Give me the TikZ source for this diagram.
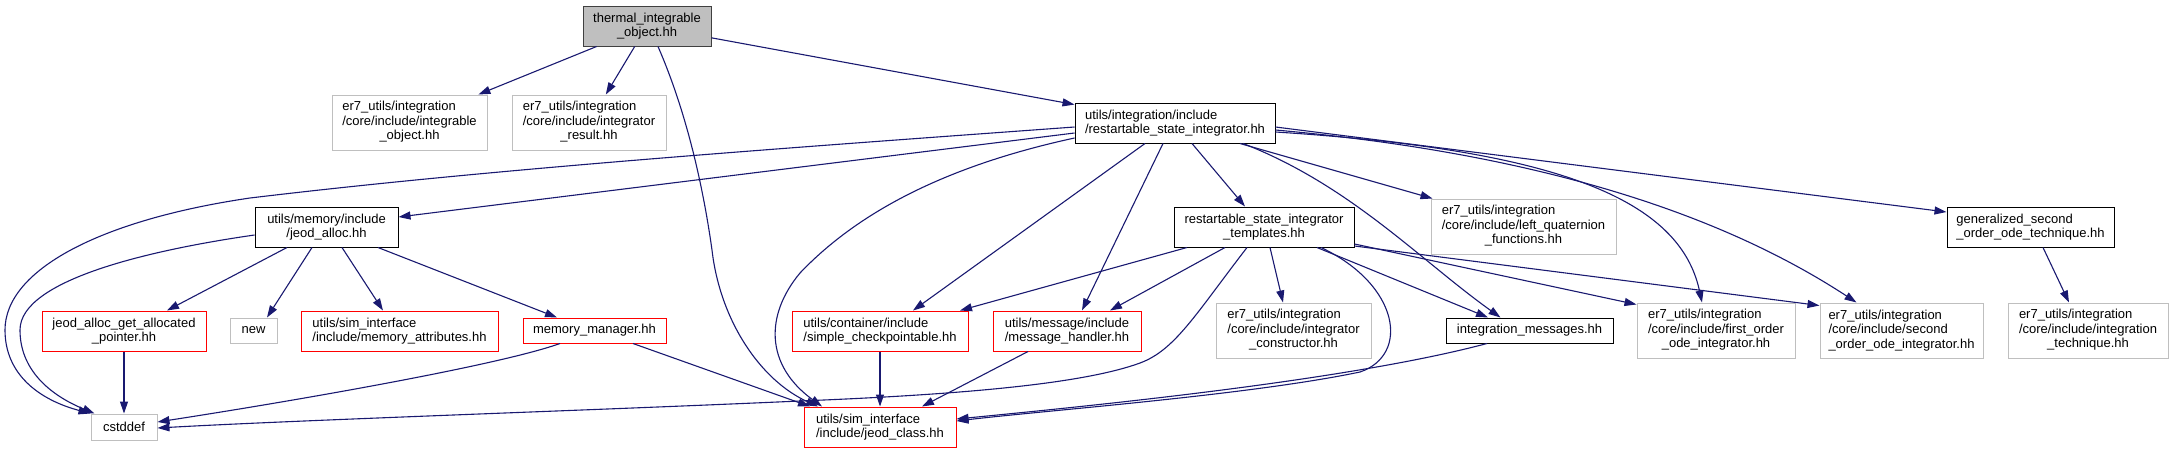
\documentclass[tikz,border=0pt]{standalone}
\usepackage{fontspec}
\setmainfont{Liberation Sans}
\usetikzlibrary{arrows.meta}

\definecolor{edgeblue}{HTML}{191970}
\definecolor{lightgrey}{HTML}{BFBFBF}
\definecolor{darkborder}{HTML}{404040}

% first lines left, last line centred
\newcommand{\lastc}[2]{\begin{tabular}{@{}l@{}}#1\\\multicolumn{1}{@{}c@{}}{#2}\end{tabular}}

\begin{document}
\begin{tikzpicture}[x=1pt, y=-1pt, >={Triangle[length=12pt,width=8pt]},
  file/.style={draw, line width=1pt, inner sep=0pt, fill=white,
    font=\fontsize{13}{14.5}\selectfont},
  sz/.style 2 args={minimum width=#1pt, minimum height=#2pt},
  root/.style={file, draw=darkborder, fill=lightgrey, align=center},
  doc/.style={file, draw=black},
  undoc/.style={file, draw=lightgrey},
  trunc/.style={file, draw=red},
  dep/.style={->, draw=edgeblue, fill=none, line width=1.1pt}]

  \useasboundingbox (0,0) rectangle (2174,453);

  % --- 1. ファイル ---
  \node[root, sz={128}{40}] (root) at (647,26) {thermal\_integrable\\\_object.hh};
  \node[undoc, sz={155}{55}] (intobj) at (409.5,122.5) {\lastc{er7\_utils/integration\\/core/include/integrable}{\_object.hh}};
  \node[undoc, sz={154}{55}] (intres) at (589,122.5) {\lastc{er7\_utils/integration\\/core/include/integrator}{\_result.hh}};
  \node[doc, sz={200}{40}, align=left] (rsi) at (1175,123) {utils/integration/include\\/restartable\_state\_integrator.hh};

  \node[doc, sz={143}{40}, align=center] (jalloc) at (326.5,227) {utils/memory/include\\/jeod\_alloc.hh};
  \node[doc, sz={180}{40}, align=center] (rst) at (1264,227) {restartable\_state\_integrator\\\_templates.hh};
  \node[undoc, sz={185}{55}] (leftq) at (1523.5,226.5) {\lastc{er7\_utils/integration\\/core/include/left\_quaternion}{\_functions.hh}};
  \node[doc, sz={167}{40}, align=left] (gen2) at (2030.5,227) {generalized\_second\\\_order\_ode\_technique.hh};

  \node[trunc, sz={164}{40}, align=center] (getptr) at (124,331) {jeod\_alloc\_get\_allocated\\\_pointer.hh};
  \node[undoc, sz={47}{25}] (new) at (253.5,330.5) {new};
  \node[trunc, sz={197}{40}, align=left] (memattr) at (399.5,331) {utils/sim\_interface\\/include/memory\_attributes.hh};
  \node[trunc, sz={143}{25}] (memmgr) at (594.5,330.5) {memory\_manager.hh};
  \node[trunc, sz={176}{40}, align=left] (simplecp) at (880,331) {utils/container/include\\/simple\_checkpointable.hh};
  \node[trunc, sz={148}{40}, align=left] (msghdl) at (1067,331) {utils/message/include\\/message\_handler.hh};
  \node[undoc, sz={155}{55}] (intcons) at (1293.5,330.5) {\lastc{er7\_utils/integration\\/core/include/integrator}{\_constructor.hh}};
  \node[doc, sz={167}{25}] (intmsg) at (1529.5,330.5) {integration\_messages.hh};
  \node[undoc, sz={158}{55}] (first) at (1716,330.5) {\lastc{er7\_utils/integration\\/core/include/first\_order}{\_ode\_integrator.hh}};
  \node[undoc, sz={163}{55}, align=left] (second) at (1901.5,330.5) {er7\_utils/integration\\/core/include/second\\\_order\_ode\_integrator.hh};
  \node[undoc, sz={160}{55}] (inttech) at (2088,330.5) {\lastc{er7\_utils/integration\\/core/include/integration}{\_technique.hh}};

  \node[undoc, sz={66}{26}] (cstddef) at (124,427) {cstddef};
  \node[trunc, sz={152}{40}, align=left] (jclass) at (880,427) {utils/sim\_interface\\/include/jeod\_class.hh};

  % --- 2. thermal_integrable_object.hh から ---
  \draw[dep] (root) -- (intobj);
  \draw[dep] (root) -- (intres);
  \draw[dep] (root) -- (rsi);
  \draw[dep] ([xshift=11pt]root.south) .. controls (690,120) and (705,200) .. (712,250)
    .. controls (720,320) and (760,380) .. ([xshift=-62pt]jclass.north);

  % --- 3. restartable_state_integrator.hh から ---
  \draw[dep] ([yshift=-4pt]rsi.west) .. controls (800,147) and (500,168) .. (250,198)
    .. controls (100,220) and (5,270) .. (5,330)
    .. controls (5,375) and (40,400) .. (cstddef.north west);
  \draw[dep] ([yshift=-10pt]rsi.west) -- ([yshift=10pt]jalloc.east);
  \draw[dep] ([yshift=-15pt]rsi.west) .. controls (950,165) and (860,210) .. (800,273)
    .. controls (765,315) and (765,365) .. ([xshift=-58pt]jclass.north);
  \draw[dep] ([xshift=-30pt]rsi.south) -- ([xshift=33pt]simplecp.north);
  \draw[dep] ([xshift=-12pt]rsi.south) -- ([xshift=15pt]msghdl.north);
  \draw[dep] ([xshift=17pt]rsi.south) -- ([xshift=-19pt]rst.north);
  \draw[dep] ([xshift=68pt]rsi.south) .. controls (1350,185) and (1420,260) .. ([xshift=-29pt]intmsg.north);
  \draw[dep] ([xshift=65pt]rsi.south) -- ([xshift=2pt]leftq.north west);
  \draw[dep] ([yshift=-9pt]rsi.east) .. controls (1560,150) and (1680,200) .. ([xshift=-14pt]first.north);
  \draw[dep] ([yshift=-7pt]rsi.east) .. controls (1500,150) and (1700,200) .. ([xshift=-45pt]second.north);
  \draw[dep] ([yshift=-4pt]rsi.east) -- ([yshift=15pt]gen2.west);

  % --- 4. jeod_alloc.hh から ---
  \draw[dep] ([yshift=-8pt]jalloc.west) .. controls (150,250) and (20,280) .. (20,330)
    .. controls (20,370) and (50,395) .. ([xshift=4pt]cstddef.north west);
  \draw[dep] ([xshift=-39.5pt]jalloc.south) -- ([xshift=43pt]getptr.north);
  \draw[dep] ([xshift=-14.5pt]jalloc.south) -- ([xshift=13.5pt]new.north);
  \draw[dep] ([xshift=15.5pt]jalloc.south) -- ([xshift=-16.5pt]memattr.north);
  \draw[dep] ([xshift=51.5pt]jalloc.south) -- ([xshift=-37.5pt]memmgr.north);
  \draw[dep] (getptr) -- (cstddef);
  \draw[dep] ([xshift=-34.5pt]memmgr.south) .. controls (500,365) and (300,400) .. ([yshift=5pt]cstddef.east);
  \draw[dep] ([xshift=38.5pt]memmgr.south) -- ([xshift=-70pt]jclass.north);

  % --- 5. restartable_state_integrator_templates.hh から ---
  \draw[dep] ([xshift=-77pt]rst.south) -- ([xshift=80pt]simplecp.north);
  \draw[dep] ([xshift=-39pt]rst.south) -- ([xshift=43pt]msghdl.north);
  \draw[dep] ([xshift=-17pt]rst.south) .. controls (1195,315) and (1175,350) .. (1140,363)
    .. controls (1080,385) and (950,395) .. (800,401)
    .. controls (600,410) and (300,420) .. ([yshift=-1pt]cstddef.east);
  \draw[dep] ([xshift=6pt]rst.south) -- ([xshift=-10.5pt]intcons.north);
  \draw[dep] ([xshift=53pt]rst.south) -- ([xshift=-41.5pt]intmsg.north);
  \draw[dep] ([xshift=57pt]rst.south) .. controls (1400,285) and (1410,355) .. (1360,372)
    .. controls (1250,395) and (1050,410) .. ([yshift=6pt]jclass.east);
  \draw[dep] ([yshift=-17pt]rst.east) -- ([yshift=-2pt]first.north west);
  \draw[dep] ([yshift=-19pt]rst.east) -- ([yshift=-3pt]second.north west);

  % --- 6. その他 ---
  \draw[dep] ([xshift=12.5pt]gen2.south) -- ([xshift=-19pt]inttech.north);
  \draw[dep] (simplecp) -- (jclass);
  \draw[dep] ([xshift=-39pt]msghdl.south) -- ([xshift=42pt]jclass.north);
  \draw[dep] ([xshift=-42.5pt]intmsg.south) .. controls (1350,380) and (1100,405) .. ([yshift=8pt]jclass.east);

\end{tikzpicture}
\end{document}
